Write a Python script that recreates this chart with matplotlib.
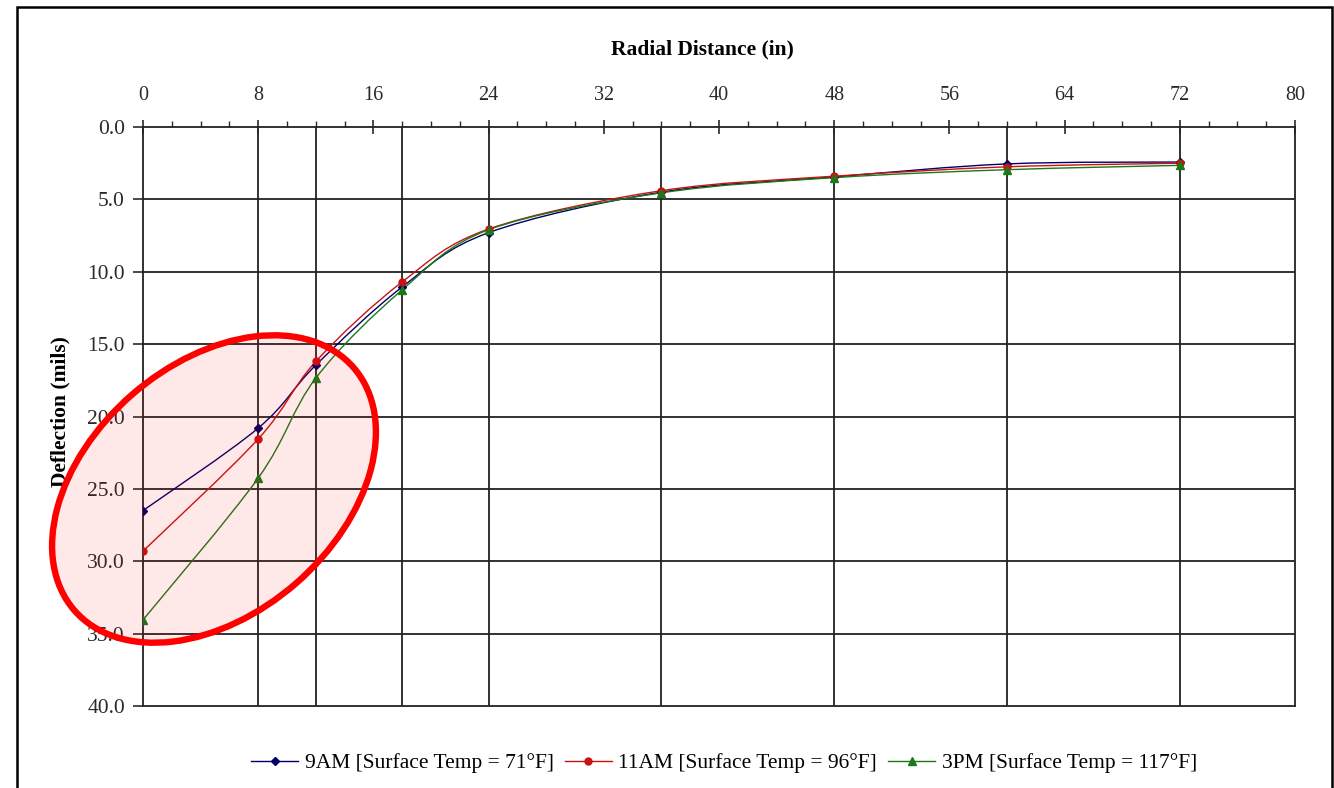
import matplotlib
matplotlib.use("Agg")
import matplotlib.pyplot as plt
import numpy as np
from matplotlib.path import Path
from matplotlib.patches import PathPatch, Ellipse, Rectangle
from matplotlib.lines import Line2D
from matplotlib.ticker import MultipleLocator

# ---- data ----
radial_in = [0, 8, 12, 18, 24, 36, 48, 60, 72]
defl_9am = [26.5, 20.8, 16.45, 11.05, 7.3, 4.5, 3.45, 2.55, 2.42]
defl_11am = [29.3, 21.55, 16.2, 10.7, 7.05, 4.4, 3.4, 2.75, 2.5]
defl_3pm = [34.05, 24.25, 17.35, 11.25, 7.1, 4.55, 3.5, 2.95, 2.65]
labels = ["9AM [Surface Temp = 71\u00b0F]",
          "11AM [Surface Temp = 96\u00b0F]",
          "3PM [Surface Temp = 117\u00b0F]"]
x_ticks = list(range(0, 81, 8))
y_ticks = [0, 5, 10, 15, 20, 25, 30, 35, 40]

colors = ["#000066", "#cc1111", "#1a7a1a"]
markers = ["D", "o", "^"]
msizes = [4.5, 5, 6]

SERIF = ["Liberation Serif", "DejaVu Serif"]
plt.rcParams["font.family"] = SERIF


def smooth_path(xs, ys):
    pts = np.column_stack([xs, ys]).astype(float)
    n = len(pts)
    verts = [pts[0]]
    codes = [Path.MOVETO]
    for i in range(n - 1):
        p0 = pts[i - 1] if i > 0 else pts[i]
        p1 = pts[i]
        p2 = pts[i + 1]
        p3 = pts[i + 2] if i + 2 < n else pts[i + 1]
        c1 = p1 + (p2 - p0) / 6.0
        c2 = p2 - (p3 - p1) / 6.0
        verts += [c1, c2, p2]
        codes += [Path.CURVE4] * 3
    return Path(verts, codes)


fig = plt.figure(figsize=(13.34, 7.88), dpi=100)
ax = fig.add_axes([143 / 1334, 1 - 706 / 788, (1295 - 143) / 1334, (706 - 127) / 788])

ax.set_xlim(0, 80)
ax.set_ylim(40, 0)

# grid
for yv in y_ticks[1:-1]:
    ax.axhline(yv, color="#222222", lw=1.3, zorder=1)
ax.vlines(radial_in[1:], 0, 40, color="#222222", lw=1.3, zorder=1)

for ys, c, m, ms, lab in zip([defl_9am, defl_11am, defl_3pm], colors, markers, msizes, labels):
    ax.add_patch(PathPatch(smooth_path(radial_in, ys), fill=False, edgecolor=c, lw=1.0, zorder=3))
    ax.plot(radial_in, ys, linestyle="none", marker=m, ms=ms, color=c, zorder=4)

# axes styling
ax.xaxis.tick_top()
ax.xaxis.set_label_position("top")
ax.set_xticks(x_ticks)
ax.set_xticklabels([str(v) for v in x_ticks])
ax.xaxis.set_minor_locator(MultipleLocator(2))
ax.set_yticks(y_ticks)
ax.set_yticklabels([f"{v:.1f}" for v in y_ticks])
ax.tick_params(axis="x", which="major", direction="inout", length=10, width=1.2, pad=11,
               labelsize=14.5, colors="#2a2a2a")
ax.tick_params(axis="x", which="minor", direction="out", length=4, width=1.0, colors="#2a2a2a")
ax.tick_params(axis="y", which="major", direction="out", length=7, width=1.2, pad=6,
               labelsize=15.5, colors="#2a2a2a")
for s in ax.spines.values():
    s.set_linewidth(1.3)
    s.set_color("#222222")

fig.text(702 / 1334, 1 - 49 / 788, "Radial Distance (in)", ha="center", va="center",
         fontsize=15.5, fontweight="bold", family=SERIF)
fig.text(60 / 1334, 1 - 412 / 788, "Deflection (mils)", ha="center", va="center",
         rotation=90, fontsize=15.5, fontweight="bold", family=SERIF)

# legend
handles = [Line2D([], [], color=c, marker=m, ms=ms, lw=1.0)
           for c, m, ms in zip(colors, markers, msizes)]
fig.legend(handles, labels, loc="center", bbox_to_anchor=(724 / 1334, 1 - 763 / 788),
           ncol=3, frameon=False, handlelength=2.2, handletextpad=0.3,
           columnspacing=0.5, prop={"family": SERIF, "size": 15.5})

# highlight ellipse (annotation)
ell = Ellipse((214 / 100, (788 - 489) / 100), 3.70, 2.50, angle=41,
              transform=fig.dpi_scale_trans, facecolor=(1, 0, 0, 0.09),
              edgecolor="#ff0000", lw=4.6, zorder=10)
fig.add_artist(ell)

# outer chart border
fig.add_artist(Rectangle((17 / 1334, -0.02), (1332 - 17) / 1334, 1.02 - 7 / 788,
                         transform=fig.transFigure, fill=False, edgecolor="black", lw=1.8))

fig.savefig("out.png", dpi=100)
